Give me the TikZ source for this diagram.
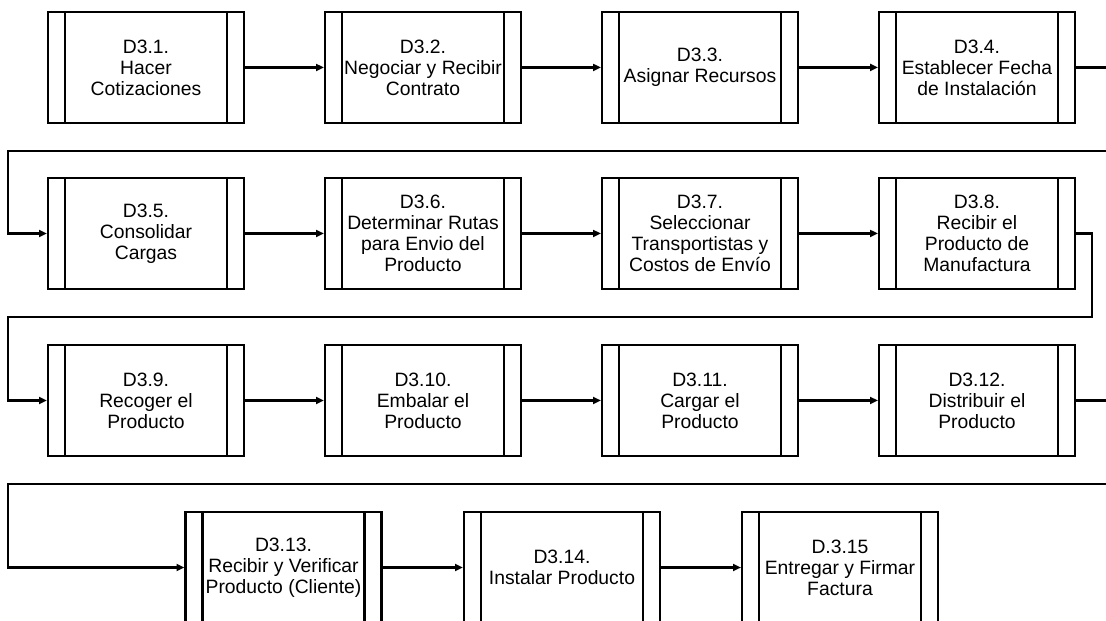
\documentclass[tikz,border=0pt]{standalone}
\usepackage{fontspec}
\setmainfont{Liberation Sans}
\usetikzlibrary{arrows.meta}

\begin{document}
\begin{tikzpicture}[x=0.02cm, y=-0.02cm, font=\fontsize{11}{11.9}\selectfont,
    proc/.style={draw, line width=1.2pt, fill=white, align=center, inner sep=0pt,
                 minimum width=3.92cm, minimum height=2.22cm,
                 path picture={
                   \draw[line width=1.2pt] ([xshift=0.34cm]path picture bounding box.north west)
                     -- ([xshift=0.34cm]path picture bounding box.south west);
                   \draw[line width=1.2pt] ([xshift=-0.34cm]path picture bounding box.north east)
                     -- ([xshift=-0.34cm]path picture bounding box.south east);}},
    arr/.style={line width=1.2pt, -{Triangle[length=4.5pt, width=4pt]}}]
    \useasboundingbox (0,0) rectangle (1106,621);
    \clip (0,0) rectangle (1106,621);
    % row 1
    \node[proc] (p1) at (146,67.5) {D3.1.\\Hacer\\Cotizaciones};
    \node[proc] (p2) at (423,67.5) {D3.2.\\Negociar y Recibir\\Contrato};
    \node[proc] (p3) at (700,67.5) {D3.3.\\Asignar Recursos};
    \node[proc] (p4) at (977,67.5) {D3.4.\\Establecer Fecha\\de Instalación};
    % row 2
    \node[proc] (p5) at (146,233.5) {D3.5.\\Consolidar\\Cargas};
    \node[proc] (p6) at (423,233.5) {D3.6.\\Determinar Rutas\\para Envio del\\Producto};
    \node[proc] (p7) at (700,233.5) {D3.7.\\Seleccionar\\Transportistas y\\Costos de Envío};
    \node[proc] (p8) at (977,233.5) {D3.8.\\Recibir el\\Producto de\\Manufactura};
    % row 3
    \node[proc] (p9) at (146,400.5) {D3.9.\\Recoger el\\Producto};
    \node[proc] (p10) at (423,400.5) {D3.10.\\Embalar el\\Producto};
    \node[proc] (p11) at (700,400.5) {D3.11.\\Cargar el\\Producto};
    \node[proc] (p12) at (977,400.5) {D3.12.\\Distribuir el\\Producto};
    % row 4
    \node[proc] (p13) at (283.5,567.5) {D3.13.\\Recibir y Verificar\\Producto (Cliente)};
    \node[proc] (p14) at (562,567.5) {D3.14.\\Instalar Producto};
    \node[proc] (p15) at (840,567.5) {D.3.15\\Entregar y Firmar\\Factura};
    \foreach \a/\b in {p1/p2, p2/p3, p3/p4, p5/p6, p6/p7, p7/p8,
                       p9/p10, p10/p11, p11/p12, p13/p14, p14/p15}
      \draw[arr] (\a) -- (\b);
    % wrap to next row
    \coordinate (t1) at (1120,151);
    \coordinate (t2) at (1092,317);
    \coordinate (t3) at (1120,484);
    \draw[arr] (p4.east) -| (t1) -- (8,151) |- (p5.west);
    \draw[arr] (p8.east) -| (t2) -- (8,317) |- (p9.west);
    \draw[arr] (p12.east) -| (t3) -- (8,484) |- (p13.west);
\end{tikzpicture}
\end{document}
